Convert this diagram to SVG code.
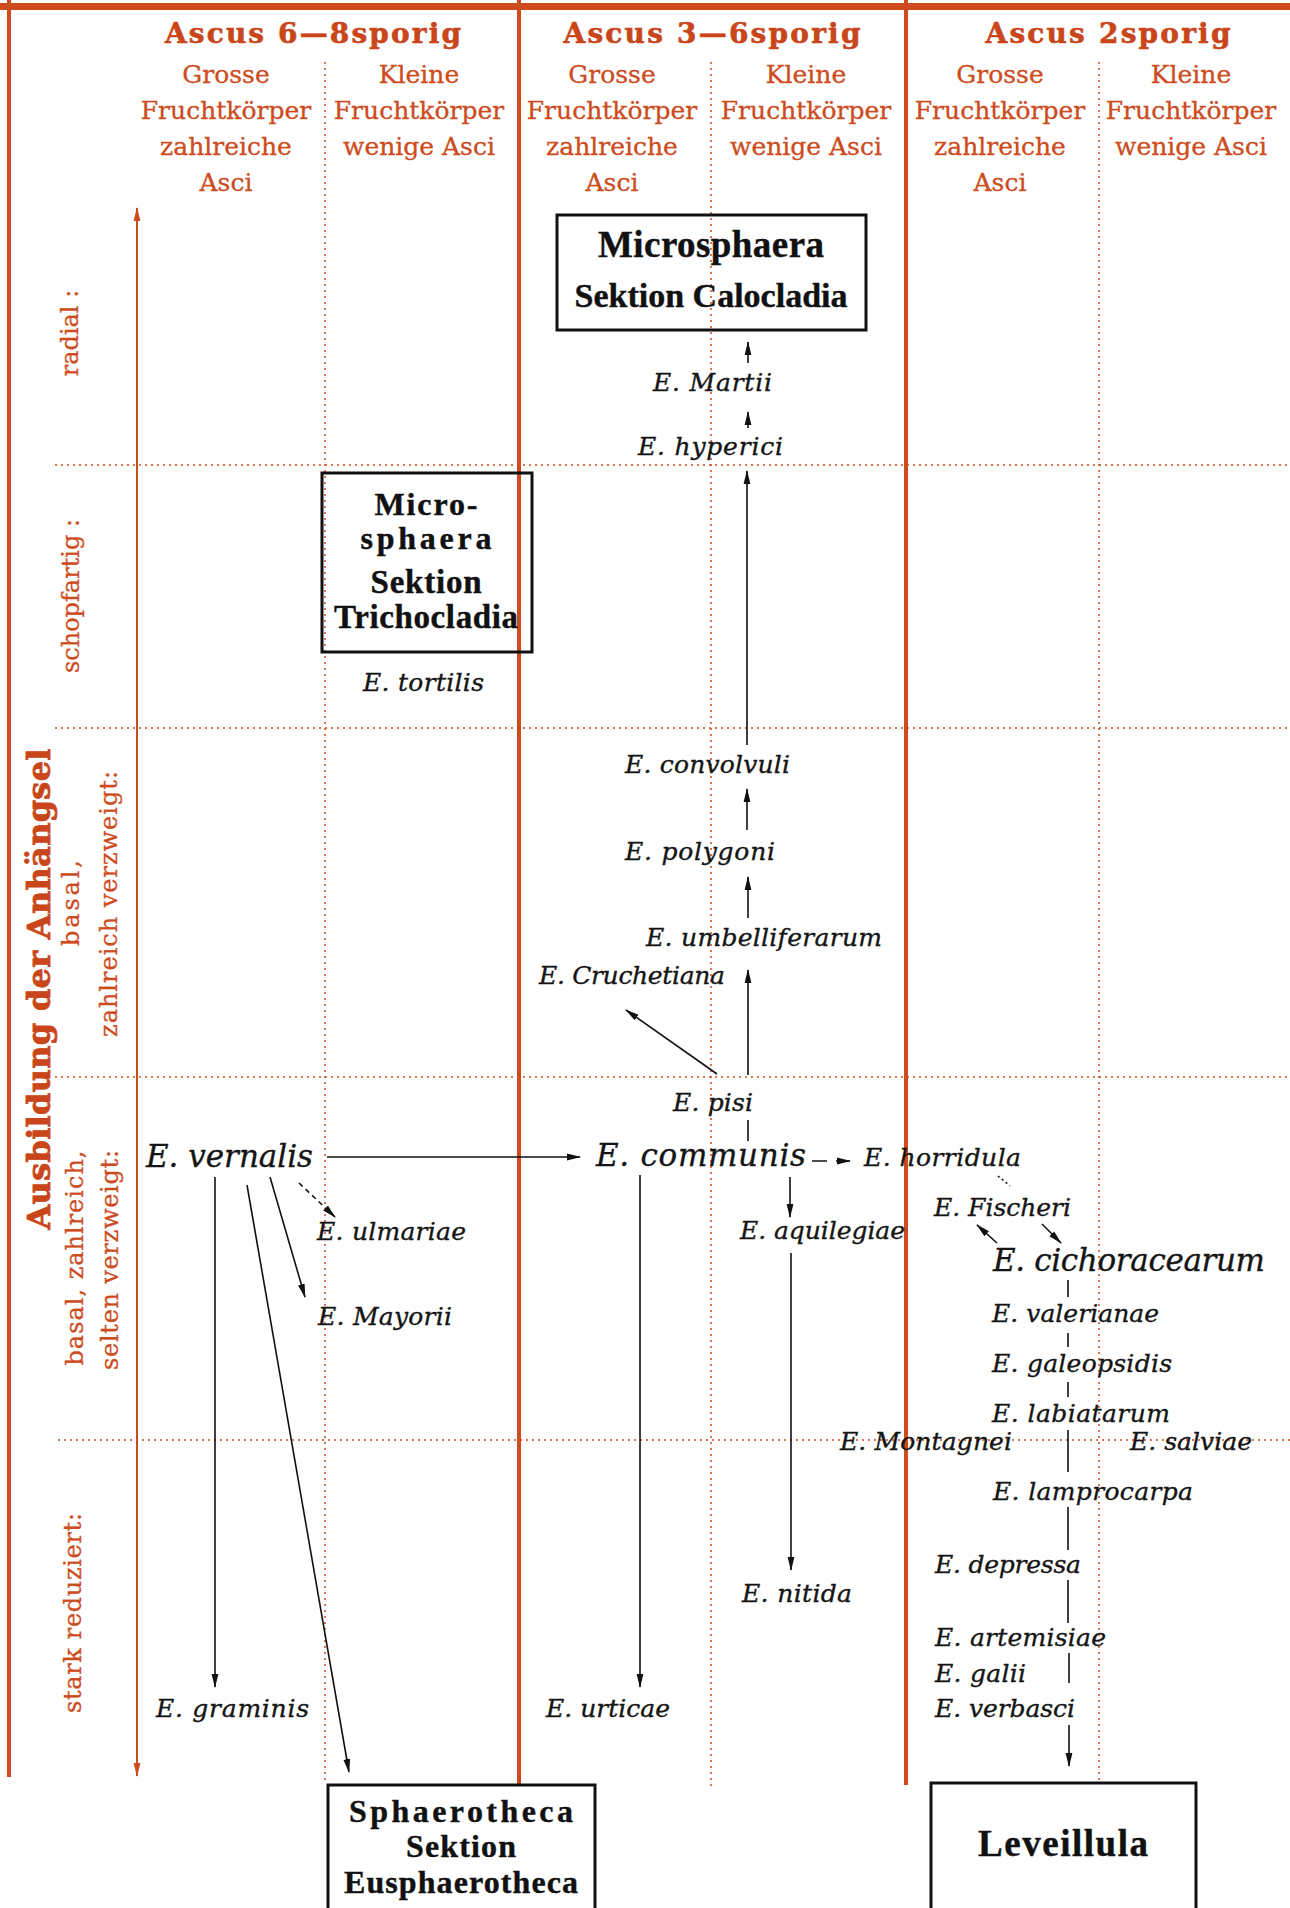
<svg xmlns="http://www.w3.org/2000/svg" width="1290" height="1908" viewBox="0 0 1290 1908">
<defs>
<style>
.o{stroke:#cd4b1d;fill:none}
.thick{stroke-width:4}
.dot{stroke-width:1.5;stroke-dasharray:2 4}
.hdr{font-family:"DejaVu Serif",serif;font-size:25px;fill:#cd4b1d;text-anchor:middle;stroke:#cd4b1d;stroke-width:0.3}
.ttl{font-family:"DejaVu Serif",serif;font-weight:bold;font-size:28px;fill:#c9461b;text-anchor:middle;stroke:#c9461b;stroke-width:0.6}
.row{font-family:"DejaVu Serif",serif;font-size:24px;fill:#cd4b1d;text-anchor:middle;stroke:#cd4b1d;stroke-width:0.3}
.big{font-family:"DejaVu Serif",serif;font-weight:bold;font-size:32px;fill:#c9461b;text-anchor:middle;stroke:#c9461b;stroke-width:0.8}
.sp{font-family:"DejaVu Serif",serif;font-style:italic;font-size:25px;fill:#151515;stroke:#151515;stroke-width:0.35}
.spL{font-size:31px}
.bx{fill:none;stroke:#111;stroke-width:3}
.bt{font-family:"Liberation Serif",serif;font-weight:bold;fill:#111;text-anchor:middle;stroke:#111;stroke-width:0.4}
.c{stroke:#111;stroke-width:1.6;fill:none}
.ca{marker-end:url(#ah)}
</style>
<marker id="ah" viewBox="0 0 14 8" refX="13" refY="4" markerWidth="14" markerHeight="8" markerUnits="userSpaceOnUse" orient="auto"><path d="M0,0.6 L14,4 L0,7.4 z" fill="#111"/></marker>
<marker id="oh" viewBox="0 0 14 8" refX="13" refY="4" markerWidth="14" markerHeight="8" markerUnits="userSpaceOnUse" orient="auto-start-reverse"><path d="M0,0.6 L14,4 L0,7.4 z" fill="#cd4b1d"/></marker>
</defs>
<rect width="1290" height="1908" fill="#ffffff"/>
<g id="grid">
<rect x="0" y="3" width="1290" height="7" fill="#cd4b1d"/>
<line class="o thick" x1="9" y1="0" x2="9" y2="1777"/>
<line class="o thick" x1="519" y1="0" x2="519" y2="1785"/>
<line class="o thick" x1="906" y1="0" x2="906" y2="1785"/>
<line class="o dot" x1="325" y1="62" x2="325" y2="1782"/>
<line class="o dot" x1="711" y1="62" x2="711" y2="1787"/>
<line class="o dot" x1="1099" y1="62" x2="1099" y2="1782"/>
<line class="o dot" x1="55" y1="465" x2="1290" y2="465"/>
<line class="o dot" x1="55" y1="728" x2="1290" y2="728"/>
<line class="o dot" x1="55" y1="1077" x2="1290" y2="1077"/>
<line class="o dot" x1="58" y1="1440" x2="1290" y2="1440"/>
<line x1="137" y1="1776" x2="137" y2="208" stroke="#cd4b1d" stroke-width="2" marker-start="url(#oh)" marker-end="url(#oh)"/>
</g>
<g id="headers">
<text class="ttl" x="313" y="43" textLength="296">Ascus 6—8sporig</text>
<text class="ttl" x="712" y="43" textLength="297">Ascus 3—6sporig</text>
<text class="ttl" x="1108" y="43" textLength="245">Ascus 2sporig</text>
<text class="hdr" x="226" y="83">Grosse</text>
<text class="hdr" x="226" y="119">Fruchtkörper</text>
<text class="hdr" x="226" y="155">zahlreiche</text>
<text class="hdr" x="226" y="191">Asci</text>
<text class="hdr" x="419" y="83">Kleine</text>
<text class="hdr" x="419" y="119">Fruchtkörper</text>
<text class="hdr" x="419" y="155">wenige Asci</text>
<text class="hdr" x="612" y="83">Grosse</text>
<text class="hdr" x="612" y="119">Fruchtkörper</text>
<text class="hdr" x="612" y="155">zahlreiche</text>
<text class="hdr" x="612" y="191">Asci</text>
<text class="hdr" x="806" y="83">Kleine</text>
<text class="hdr" x="806" y="119">Fruchtkörper</text>
<text class="hdr" x="806" y="155">wenige Asci</text>
<text class="hdr" x="1000" y="83">Grosse</text>
<text class="hdr" x="1000" y="119">Fruchtkörper</text>
<text class="hdr" x="1000" y="155">zahlreiche</text>
<text class="hdr" x="1000" y="191">Asci</text>
<text class="hdr" x="1191" y="83">Kleine</text>
<text class="hdr" x="1191" y="119">Fruchtkörper</text>
<text class="hdr" x="1191" y="155">wenige Asci</text>
</g>
<g id="rowlabels">
<text class="big" transform="translate(50 989) rotate(-90)" textLength="481">Ausbildung der Anhängsel</text>
<text class="row" transform="translate(78 333) rotate(-90)">radial :</text>
<text class="row" transform="translate(79 596) rotate(-90)">schopfartig :</text>
<text class="row" transform="translate(79 903) rotate(-90)" textLength="86">basal,</text>
<text class="row" transform="translate(117 904) rotate(-90)" textLength="266">zahlreich verzweigt:</text>
<text class="row" transform="translate(83 1258) rotate(-90)" textLength="215">basal, zahlreich,</text>
<text class="row" transform="translate(118 1260) rotate(-90)" textLength="220">selten verzweigt:</text>
<text class="row" transform="translate(81 1613) rotate(-90)" textLength="200">stark reduziert:</text>
</g>
<g id="connectors">
<line class="c ca" x1="748" y1="363" x2="748" y2="342"/>
<line class="c ca" x1="748" y1="428" x2="748" y2="412"/>
<line class="c ca" x1="747" y1="745" x2="747" y2="471"/>
<line class="c ca" x1="747" y1="830" x2="747" y2="789"/>
<line class="c ca" x1="748" y1="918" x2="748" y2="877"/>
<line class="c ca" x1="748" y1="1075" x2="748" y2="970"/>
<line class="c ca" x1="717" y1="1074" x2="626" y2="1010"/>
<line class="c" x1="748" y1="1120" x2="748" y2="1141"/>
<line class="c ca" x1="327" y1="1157" x2="580" y2="1157"/>
<line class="c ca" x1="812" y1="1161" x2="850" y2="1161" stroke-dasharray="15 9"/>
<line class="c" x1="998" y1="1176" x2="1010" y2="1186" stroke-dasharray="2 3"/>
<line class="c ca" x1="790" y1="1177" x2="790" y2="1217"/>
<line class="c ca" x1="791" y1="1253" x2="791" y2="1570"/>
<line class="c ca" x1="640" y1="1175" x2="640" y2="1687"/>
<line class="c ca" x1="215" y1="1177" x2="215" y2="1687"/>
<line class="c ca" x1="247" y1="1185" x2="349" y2="1772"/>
<line class="c ca" x1="270" y1="1177" x2="305" y2="1297"/>
<line class="c ca" x1="299" y1="1183" x2="335" y2="1217" stroke-dasharray="5 4"/>
<line class="c ca" x1="997" y1="1243" x2="977" y2="1225"/>
<line class="c ca" x1="1042" y1="1224" x2="1061" y2="1243"/>
<line class="c" x1="1068" y1="1280" x2="1068" y2="1297"/>
<line class="c" x1="1068" y1="1333" x2="1068" y2="1347"/>
<line class="c" x1="1068" y1="1382" x2="1068" y2="1397"/>
<line class="c" x1="1068" y1="1430" x2="1068" y2="1472"/>
<line class="c" x1="1068" y1="1507" x2="1068" y2="1550"/>
<line class="c" x1="1068" y1="1580" x2="1068" y2="1623"/>
<line class="c" x1="1069" y1="1653" x2="1069" y2="1683"/>
<line class="c ca" x1="1069" y1="1725" x2="1069" y2="1766"/>
</g>
<g id="box-calocladia">
<rect class="bx" x="557" y="215" width="309" height="115"/>
<text class="bt" x="711" y="257" font-size="37" textLength="226">Microsphaera</text>
<text class="bt" x="711" y="307" font-size="34" textLength="273">Sektion Calocladia</text>
</g>
<g id="box-trichocladia">
<rect class="bx" x="322" y="473" width="210" height="179"/>
<text class="bt" x="426" y="515" font-size="32" textLength="103">Micro-</text>
<text class="bt" x="426" y="549" font-size="32" textLength="131">sphaera</text>
<text class="bt" x="426" y="593" font-size="33" textLength="111">Sektion</text>
<text class="bt" x="426" y="628" font-size="33" textLength="184">Trichocladia</text>
</g>
<g id="box-sphaerotheca">
<rect class="bx" x="328" y="1785" width="267" height="130"/>
<text class="bt" x="461" y="1822" font-size="32" textLength="224">Sphaerotheca</text>
<text class="bt" x="461" y="1857" font-size="32" textLength="110">Sektion</text>
<text class="bt" x="461" y="1893" font-size="32" textLength="234">Eusphaerotheca</text>
</g>
<g id="box-leveillula">
<rect class="bx" x="931" y="1783" width="265" height="132"/>
<text class="bt" x="1063" y="1856" font-size="37" textLength="170">Leveillula</text>
</g>
<g id="n-tortilis"><text class="sp" x="363" y="691" textLength="121">E. tortilis</text></g>
<g id="n-martii"><text class="sp" x="653" y="391" textLength="119">E. Martii</text></g>
<g id="n-hyperici"><text class="sp" x="638" y="455" textLength="145">E. hyperici</text></g>
<g id="n-convolvuli"><text class="sp" x="625" y="773" textLength="165">E. convolvuli</text></g>
<g id="n-polygoni"><text class="sp" x="625" y="860" textLength="150">E. polygoni</text></g>
<g id="n-umbelliferarum"><text class="sp" x="646" y="946" textLength="236">E. umbelliferarum</text></g>
<g id="n-cruchetiana"><text class="sp" x="539" y="984" textLength="186">E. Cruchetiana</text></g>
<g id="n-pisi"><text class="sp" x="673" y="1111" textLength="80">E. pisi</text></g>
<g id="n-communis"><text class="sp spL" x="596" y="1166" textLength="210">E. communis</text></g>
<g id="n-vernalis"><text class="sp spL" x="146" y="1167" textLength="167">E. vernalis</text></g>
<g id="n-horridula"><text class="sp" x="864" y="1166" textLength="157">E. horridula</text></g>
<g id="n-ulmariae"><text class="sp" x="317" y="1240" textLength="149">E. ulmariae</text></g>
<g id="n-mayorii"><text class="sp" x="318" y="1325" textLength="134">E. Mayorii</text></g>
<g id="n-fischeri"><text class="sp" x="934" y="1216" textLength="137">E. Fischeri</text></g>
<g id="n-aquilegiae"><text class="sp" x="740" y="1239" textLength="165">E. aquilegiae</text></g>
<g id="n-cichoracearum"><text class="sp spL" x="993" y="1271" textLength="272">E. cichoracearum</text></g>
<g id="n-valerianae"><text class="sp" x="992" y="1322" textLength="167">E. valerianae</text></g>
<g id="n-galeopsidis"><text class="sp" x="992" y="1372" textLength="180">E. galeopsidis</text></g>
<g id="n-labiatarum"><text class="sp" x="992" y="1422" textLength="178">E. labiatarum</text></g>
<g id="n-montagnei"><text class="sp" x="840" y="1450" textLength="172">E. Montagnei</text></g>
<g id="n-salviae"><text class="sp" x="1130" y="1450" textLength="122">E. salviae</text></g>
<g id="n-lamprocarpa"><text class="sp" x="993" y="1500" textLength="200">E. lamprocarpa</text></g>
<g id="n-depressa"><text class="sp" x="935" y="1573" textLength="146">E. depressa</text></g>
<g id="n-nitida"><text class="sp" x="742" y="1602" textLength="110">E. nitida</text></g>
<g id="n-artemisiae"><text class="sp" x="935" y="1646" textLength="171">E. artemisiae</text></g>
<g id="n-galii"><text class="sp" x="935" y="1682" textLength="91">E. galii</text></g>
<g id="n-verbasci"><text class="sp" x="935" y="1717" textLength="140">E. verbasci</text></g>
<g id="n-graminis"><text class="sp" x="156" y="1717" textLength="153">E. graminis</text></g>
<g id="n-urticae"><text class="sp" x="546" y="1717" textLength="124">E. urticae</text></g>
</svg>
